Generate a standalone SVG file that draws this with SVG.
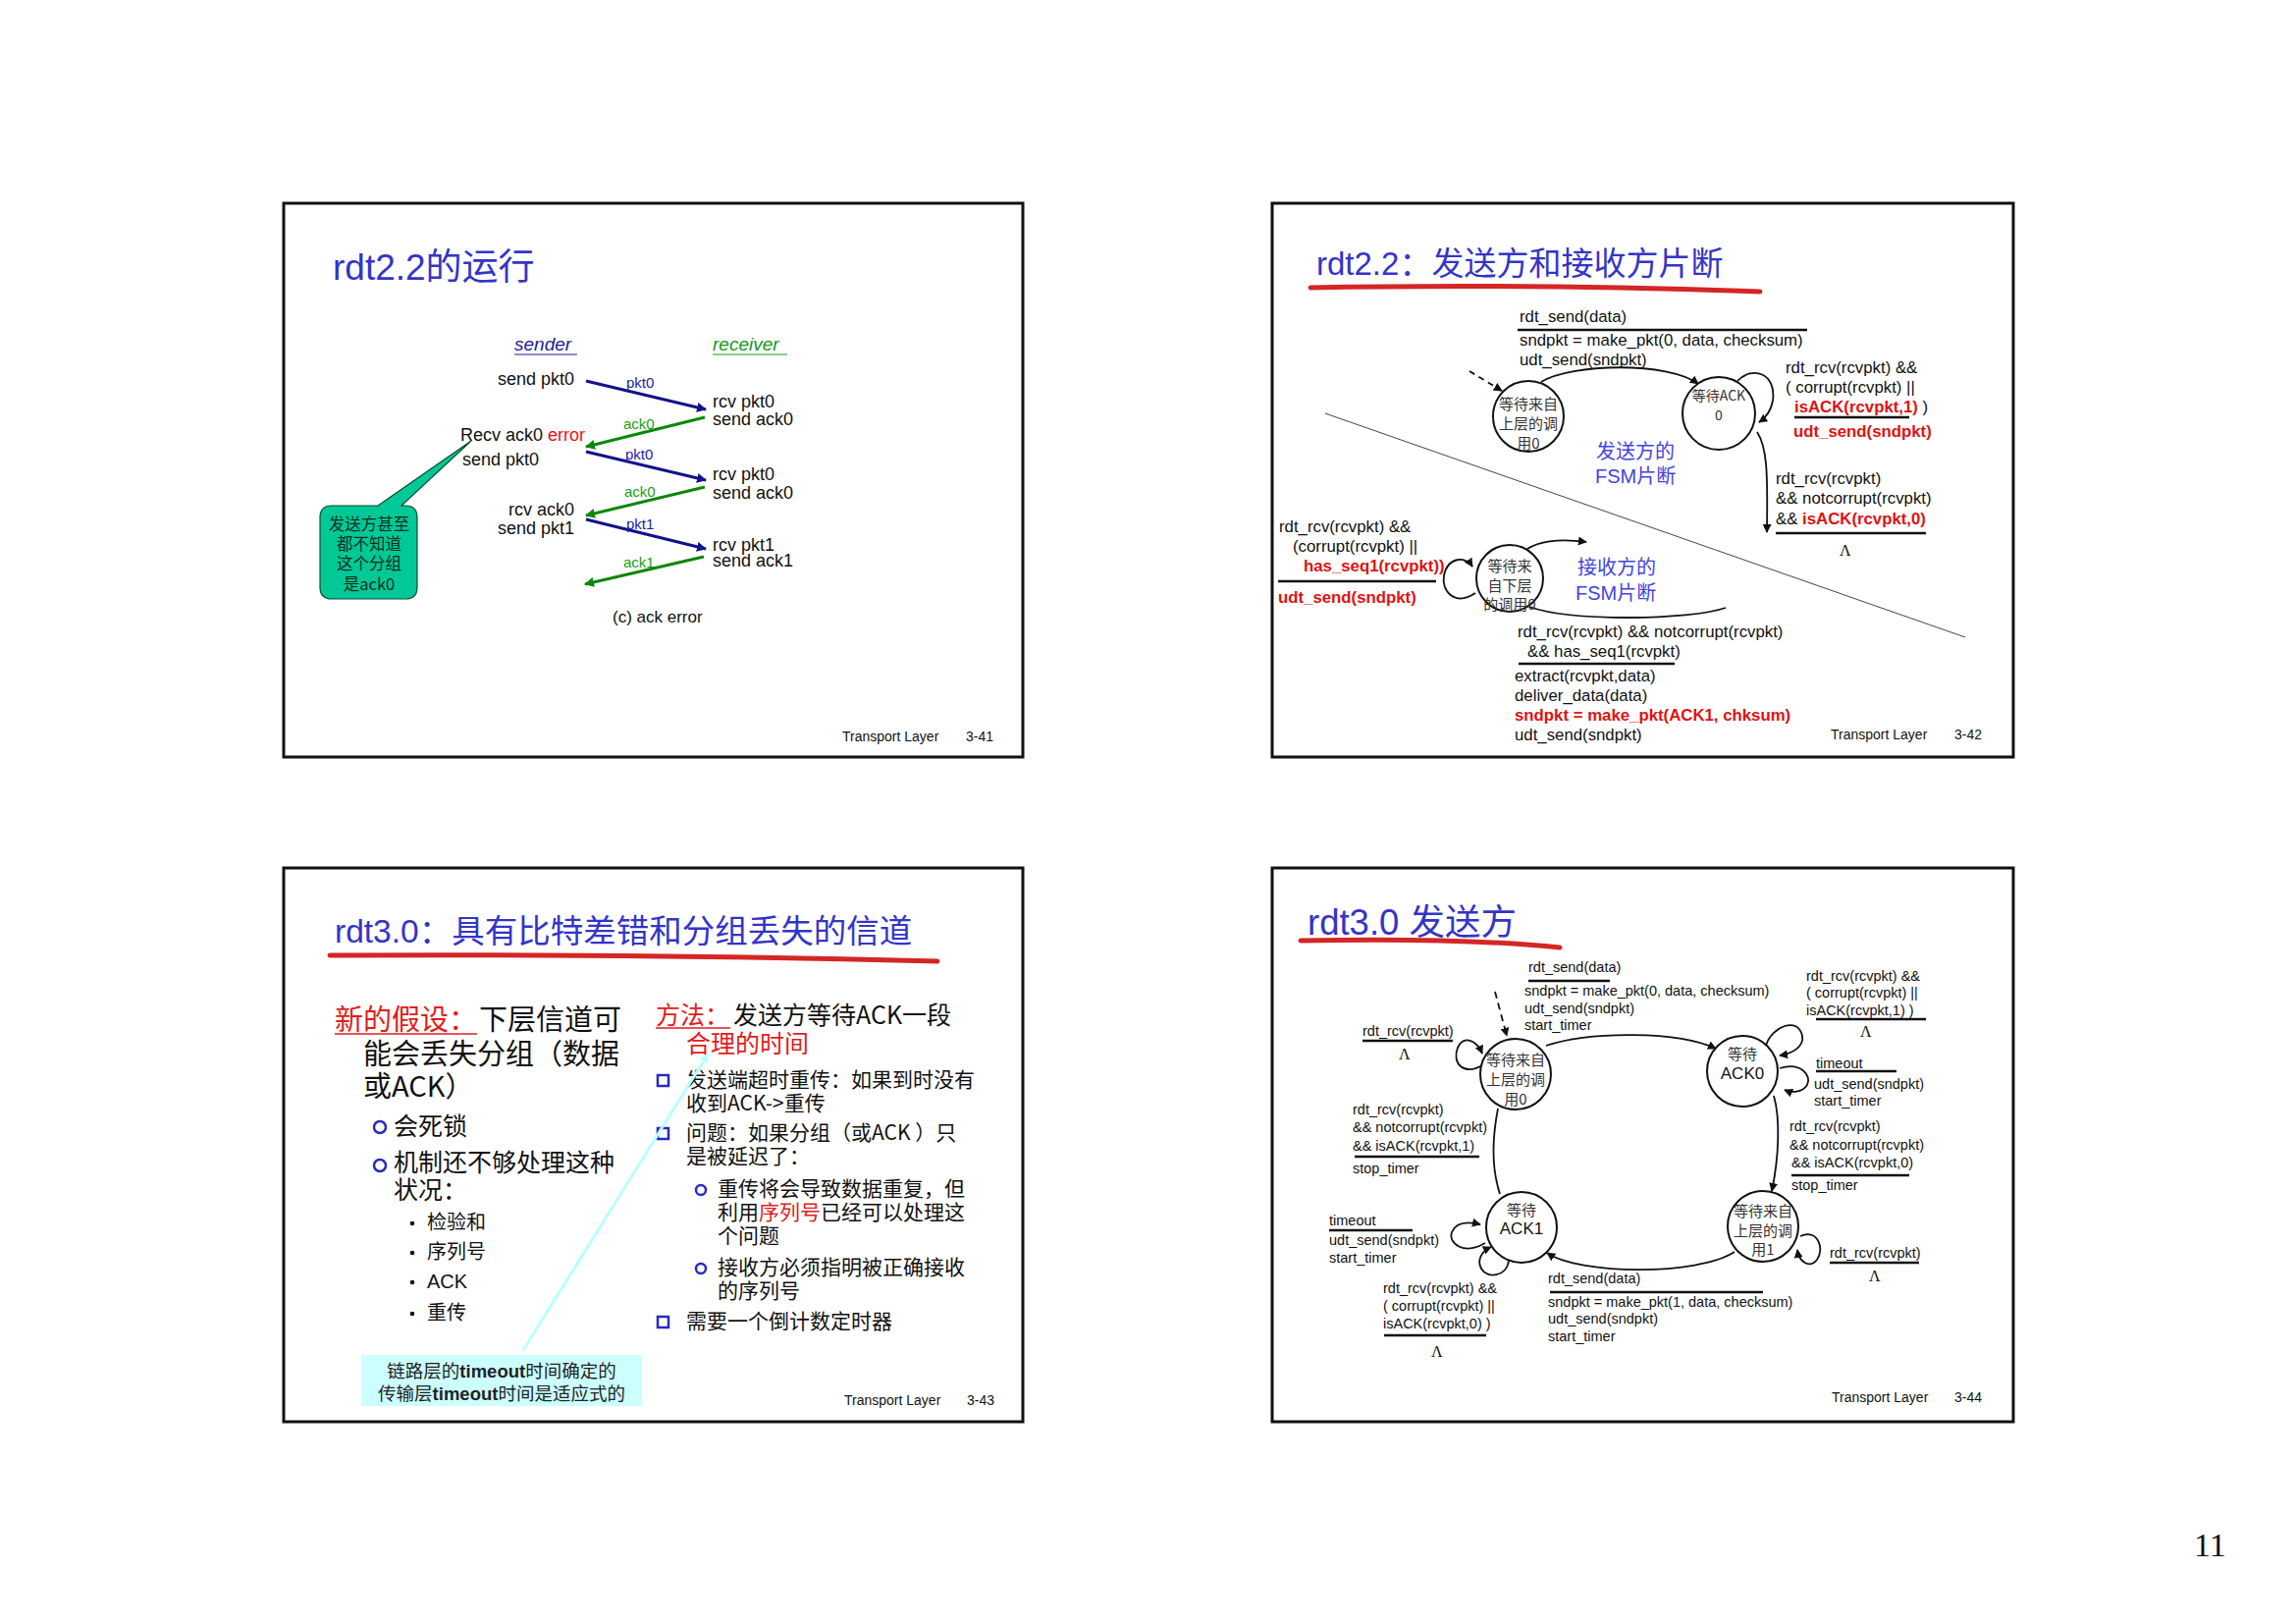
<svg xmlns="http://www.w3.org/2000/svg" width="2339" height="1654" viewBox="0 0 2339 1654">
<defs>
<style>
.frame{fill:#fff;stroke:#111;stroke-width:3}
.ttl{font-family:"Liberation Sans","Noto Sans CJK SC",sans-serif;font-size:33px;fill:#3434c8}
.foot{font-family:"Liberation Sans",sans-serif;font-size:14px;fill:#111}
.s1{font-family:"Liberation Sans",sans-serif;font-size:18px;fill:#111}
.f2{font-family:"Liberation Sans","Noto Sans CJK SC",sans-serif;font-size:16.8px;fill:#111}
.f4{font-family:"Liberation Sans","Noto Sans CJK SC",sans-serif;font-size:14.5px;fill:#111}
.rb{fill:#e01212;font-weight:bold}
.lam{font-family:"Liberation Serif",serif;font-size:16px;fill:#111}
.st{fill:#fff;stroke:#111;stroke-width:2}
.stt{font-family:"Noto Sans CJK SC",sans-serif;font-size:15px;fill:#333;text-anchor:middle}
.stl{font-family:"Liberation Sans","Noto Sans CJK SC",sans-serif;font-size:17px;fill:#111;text-anchor:middle}
.bar{stroke:#111;stroke-width:2.5}
.conn{fill:none;stroke:#111;stroke-width:1.8}
.brush{fill:none;stroke:#d52626;stroke-width:5;stroke-linecap:round}
.fsmnote{font-family:"Liberation Sans","Noto Sans CJK SC",sans-serif;font-size:20px;fill:#4444e0}
.cj{font-family:"Noto Sans CJK SC",sans-serif;fill:#111}
.lat{font-family:"Liberation Sans","Noto Sans CJK SC",sans-serif}
.bl{fill:none;stroke:#2a2ac0;stroke-width:2.5}
.dot{fill:#111}
</style>
<marker id="ah" viewBox="0 0 10 10" refX="9" refY="5" markerWidth="9" markerHeight="9" markerUnits="userSpaceOnUse" orient="auto">
<path d="M0,0 L10,5 L0,10 z" fill="#111"/>
</marker>
<marker id="ahBlue" viewBox="0 0 10 10" refX="9" refY="5" markerWidth="10" markerHeight="10" markerUnits="userSpaceOnUse" orient="auto">
<path d="M0,0 L10,5 L0,10 z" fill="#12128c"/>
</marker>
<marker id="ahGreen" viewBox="0 0 10 10" refX="9" refY="5" markerWidth="10" markerHeight="10" markerUnits="userSpaceOnUse" orient="auto">
<path d="M0,0 L10,5 L0,10 z" fill="#0c860c"/>
</marker>
<marker id="ahCyan" viewBox="0 0 10 10" refX="9" refY="5" markerWidth="9" markerHeight="9" markerUnits="userSpaceOnUse" orient="auto">
<path d="M0,0 L10,5 L0,10 z" fill="#b8ffff"/>
</marker>
</defs>

<rect width="2339" height="1654" fill="#fff"/>

<!-- ============ Slide 3-41 : rdt2.2 operation ============ -->
<g id="slide-41">
<rect class="frame" x="289" y="207" width="753" height="564"/>
<text class="ttl" x="339" y="285" style="font-size:37px">rdt2.2的运行</text>

<g id="s41-roles" font-family="Liberation Sans, sans-serif" font-size="19" font-style="italic">
<text x="524" y="357" fill="#1c1c98">sender</text>
<line x1="524" y1="361" x2="588" y2="361" stroke="#1c1c98" stroke-width="1.2"/>
<text x="726" y="357" fill="#1a961a">receiver</text>
<line x1="726" y1="361" x2="802" y2="361" stroke="#1a961a" stroke-width="1.2"/>
</g>

<g id="s41-sender-events" class="s1">
<text x="585" y="392" text-anchor="end">send pkt0</text>
<text x="469" y="449">Recv ack0 <tspan fill="#ee1111">error</tspan></text>
<text x="471" y="474">send pkt0</text>
<text x="585" y="525" text-anchor="end">rcv ack0</text>
<text x="585" y="544" text-anchor="end">send pkt1</text>
</g>
<g id="s41-receiver-events" class="s1">
<text x="726" y="415">rcv pkt0</text>
<text x="726" y="433">send ack0</text>
<text x="726" y="489">rcv pkt0</text>
<text x="726" y="508">send ack0</text>
<text x="726" y="561">rcv pkt1</text>
<text x="726" y="577">send ack1</text>
</g>

<g id="s41-messages" stroke-width="3" fill="none">
<line x1="597" y1="388" x2="719" y2="417" stroke="#12128c" marker-end="url(#ahBlue)"/>
<line x1="718" y1="425" x2="597" y2="455" stroke="#0c860c" marker-end="url(#ahGreen)"/>
<line x1="597" y1="460" x2="719" y2="489" stroke="#12128c" marker-end="url(#ahBlue)"/>
<line x1="718" y1="496" x2="597" y2="525" stroke="#0c860c" marker-end="url(#ahGreen)"/>
<line x1="597" y1="529" x2="719" y2="559" stroke="#12128c" marker-end="url(#ahBlue)"/>
<line x1="717" y1="567" x2="596" y2="595" stroke="#0c860c" marker-end="url(#ahGreen)"/>
</g>
<g id="s41-message-labels" font-family="Liberation Sans, sans-serif" font-size="15">
<text x="638" y="395" fill="#1c1ca8">pkt0</text>
<text x="635" y="437" fill="#14a014">ack0</text>
<text x="637" y="468" fill="#1c1ca8">pkt0</text>
<text x="636" y="506" fill="#14a014">ack0</text>
<text x="638" y="539" fill="#1c1ca8">pkt1</text>
<text x="635" y="578" fill="#14a014">ack1</text>
</g>

<g id="s41-callout">
<path d="M338,515 L385,515 L480,449 L409,515 L413,515 Q425,515 425,527 L425,598 Q425,610 413,610 L338,610 Q326,610 326,598 L326,527 Q326,515 338,515 Z" fill="#00c896" stroke="#0d4a30" stroke-width="1.2"/>
<g font-family="Noto Sans CJK SC, sans-serif" font-size="16.5" fill="#0e2e1c" text-anchor="middle">
<text x="376" y="540">发送方甚至</text>
<text x="376" y="560">都不知道</text>
<text x="376" y="580">这个分组</text>
<text x="376" y="601">是ack0</text>
</g>
</g>

<text class="s1" x="624" y="634" style="font-size:17px">(c) ack error</text>
<text class="foot" x="858" y="755">Transport Layer</text>
<text class="foot" x="984" y="755">3-41</text>
</g>

<!-- ============ Slide 3-42 : rdt2.2 sender and receiver fragments ============ -->
<g id="slide-42">
<rect class="frame" x="1296" y="207" width="755" height="564"/>
<text class="ttl" x="1341" y="280">rdt2.2：发送方和接收方片断</text>
<path class="brush" d="M1335,293 C1480,290 1650,292 1793,297"/>

<line x1="1350" y1="421" x2="2002" y2="649" stroke="#444" stroke-width="1"/>

<g id="s42-connectors">
<path class="conn" d="M1497,378 L1530,398" stroke-dasharray="6,5" marker-end="url(#ah)"/>
<path class="conn" d="M1570,389 C1600,370 1700,368 1730,391" marker-end="url(#ah)"/>
<path class="conn" d="M1770,388 C1785,372 1810,380 1806,408 C1804,420 1798,426 1792,430" marker-end="url(#ah)"/>
<path class="conn" d="M1790,440 C1800,455 1801,480 1800,542" marker-end="url(#ah)"/>
<path class="conn" d="M1503,604 C1482,618 1468,602 1471,586 C1475,567 1493,566 1500,577" marker-end="url(#ah)"/>
<path class="conn" d="M1548,566 C1560,552 1585,548 1616,552" marker-end="url(#ah)"/>
<path class="conn" d="M1558,618 C1600,633 1720,632 1758,619"/>
</g>

<g id="s42-wait-call0">
<circle class="st" cx="1557" cy="424" r="36"/>
<text class="stt" x="1557" y="417">等待来自</text>
<text class="stt" x="1557" y="437">上层的调</text>
<text class="stt" x="1557" y="457">用0</text>
</g>
<g id="s42-wait-ack0">
<circle class="st" cx="1751" cy="421" r="37"/>
<text class="stt" x="1751" y="408" style="font-size:14px">等待ACK</text>
<text class="stt" x="1751" y="428" style="font-size:14px">0</text>
</g>
<g id="s42-recv-wait">
<circle class="st" cx="1538" cy="589" r="34"/>
<text class="stt" x="1538" y="582">等待来</text>
<text class="stt" x="1538" y="602">自下层</text>
<text class="stt" x="1538" y="621">的调用0</text>
</g>

<g id="s42-labels" class="f2">
<text x="1548" y="328">rdt_send(data)</text>
<line class="bar" x1="1546" y1="336" x2="1841" y2="336"/>
<text x="1548" y="352">sndpkt = make_pkt(0, data, checksum)</text>
<text x="1548" y="372">udt_send(sndpkt)</text>

<text x="1819" y="380">rdt_rcv(rcvpkt) &amp;&amp;</text>
<text x="1819" y="400">( corrupt(rcvpkt) ||</text>
<text x="1828" y="420"><tspan class="rb">isACK(rcvpkt,1)</tspan> )</text>
<line class="bar" x1="1828" y1="425" x2="1945" y2="425"/>
<text x="1827" y="445" class="rb">udt_send(sndpkt)</text>

<text x="1809" y="493">rdt_rcv(rcvpkt)</text>
<text x="1809" y="513">&amp;&amp; notcorrupt(rcvpkt)</text>
<text x="1809" y="534">&amp;&amp; <tspan class="rb">isACK(rcvpkt,0)</tspan></text>
<line class="bar" x1="1809" y1="543" x2="1962" y2="543"/>
<text class="lam" x="1874" y="566">Λ</text>

<text x="1303" y="542">rdt_rcv(rcvpkt) &amp;&amp;</text>
<text x="1317" y="562">(corrupt(rcvpkt) ||</text>
<text x="1328" y="582" class="rb">has_seq1(rcvpkt))</text>
<line class="bar" x1="1302" y1="592" x2="1463" y2="592"/>
<text x="1302" y="614" class="rb">udt_send(sndpkt)</text>

<text x="1546" y="649">rdt_rcv(rcvpkt) &amp;&amp; notcorrupt(rcvpkt)</text>
<text x="1556" y="669">&amp;&amp; has_seq1(rcvpkt)</text>
<line class="bar" x1="1547" y1="676" x2="1706" y2="676"/>
<text x="1543" y="694">extract(rcvpkt,data)</text>
<text x="1543" y="714">deliver_data(data)</text>
<text x="1543" y="734" class="rb">sndpkt = make_pkt(ACK1, chksum)</text>
<text x="1543" y="754">udt_send(sndpkt)</text>
</g>

<g id="s42-notes" class="fsmnote">
<text x="1626" y="467">发送方的</text>
<text x="1625" y="492">FSM片断</text>
<text x="1607" y="585">接收方的</text>
<text x="1605" y="611">FSM片断</text>
</g>

<text class="foot" x="1865" y="753">Transport Layer</text>
<text class="foot" x="1991" y="753">3-42</text>
</g>

<!-- ============ Slide 3-43 : rdt3.0 channel with errors and loss ============ -->
<g id="slide-43">
<rect class="frame" x="289" y="884" width="753" height="564"/>
<text class="ttl" x="341" y="960" style="font-size:33.5px">rdt3.0：具有比特差错和分组丢失的信道</text>
<path class="brush" d="M336,973 C520,972 760,974 955,979"/>

<g id="s43-left" class="cj" font-size="29">
<text x="341" y="1049" fill="#e31b1b">新的假设：</text>
<line x1="341" y1="1053" x2="486" y2="1053" stroke="#e31b1b" stroke-width="1.5"/>
<text x="488" y="1049">下层信道可</text>
<text x="370" y="1084">能会丢失分组（数据</text>
<text x="370" y="1117">或ACK）</text>
</g>
<g id="s43-left-bullets" class="cj" font-size="25">
<circle class="bl" cx="387" cy="1148" r="6"/>
<text x="401" y="1156">会死锁</text>
<circle class="bl" cx="387" cy="1187" r="6"/>
<text x="401" y="1193">机制还不够处理这种</text>
<text x="401" y="1221">状况：</text>
</g>
<g id="s43-left-sub" class="cj" font-size="20">
<circle class="dot" cx="420" cy="1246" r="2.3"/><text x="435" y="1252">检验和</text>
<circle class="dot" cx="420" cy="1276" r="2.3"/><text x="435" y="1282">序列号</text>
<circle class="dot" cx="420" cy="1306" r="2.3"/><text class="lat" x="435" y="1312">ACK</text>
<circle class="dot" cx="420" cy="1338" r="2.3"/><text x="435" y="1344">重传</text>
</g>

<g id="s43-right" class="cj">
<text x="668" y="1043" font-size="25" fill="#e31b1b">方法：</text>
<line x1="668" y1="1047" x2="744" y2="1047" stroke="#e31b1b" stroke-width="1.5"/>
<text x="747" y="1043" font-size="25">发送方等待ACK一段</text>
<text x="699" y="1072" font-size="25" fill="#e31b1b">合理的时间</text>
<g font-size="21">
<rect class="bl" x="670" y="1095" width="11" height="11" stroke-width="2.2"/>
<text x="699" y="1107">发送端超时重传：如果到时没有</text>
<text x="699" y="1131">收到ACK-&gt;重传</text>
<rect class="bl" x="670" y="1149" width="11" height="11" stroke-width="2.2"/>
<text x="699" y="1161">问题：如果分组（或ACK ）只</text>
<text x="699" y="1185">是被延迟了：</text>
<circle class="bl" cx="714" cy="1212" r="5" stroke-width="2"/>
<text x="731" y="1218">重传将会导致数据重复，但</text>
<text x="731" y="1242">利用<tspan fill="#e31b1b">序列号</tspan>已经可以处理这</text>
<text x="731" y="1266">个问题</text>
<circle class="bl" cx="714" cy="1292" r="5" stroke-width="2"/>
<text x="731" y="1298">接收方必须指明被正确接收</text>
<text x="731" y="1322">的序列号</text>
<rect class="bl" x="670" y="1341" width="11" height="11" stroke-width="2.2"/>
<text x="699" y="1353">需要一个倒计数定时器</text>
</g>
</g>

<g id="s43-note">
<line x1="533" y1="1375" x2="721" y2="1074" stroke="#b8ffff" stroke-width="3" marker-end="url(#ahCyan)"/>
<rect x="368" y="1380" width="286" height="52" fill="#ccffff"/>
<g font-family="Noto Sans CJK SC, sans-serif" font-size="18.5" fill="#222" text-anchor="middle">
<text x="511" y="1403">链路层的<tspan font-family="Liberation Sans, sans-serif" font-weight="bold">timeout</tspan>时间确定的</text>
<text x="511" y="1426">传输层<tspan font-family="Liberation Sans, sans-serif" font-weight="bold">timeout</tspan>时间是适应式的</text>
</g>
</g>

<text class="foot" x="860" y="1431">Transport Layer</text>
<text class="foot" x="985" y="1431">3-43</text>
</g>

<!-- ============ Slide 3-44 : rdt3.0 sender ============ -->
<g id="slide-44">
<rect class="frame" x="1296" y="884" width="755" height="564"/>
<text class="ttl" x="1332" y="952" style="font-size:36.5px">rdt3.0 发送方</text>
<path class="brush" d="M1325,958 C1420,956 1510,957 1589,965"/>

<g id="s44-connectors">
<path class="conn" d="M1523,1010 L1535,1055" stroke-dasharray="7,5" marker-end="url(#ah)"/>
<path class="conn" d="M1575,1065 C1620,1050 1710,1050 1748,1068" marker-end="url(#ah)"/>
<path class="conn" d="M1512,1084 C1490,1097 1479,1082 1485,1067 C1491,1054 1504,1059 1510,1073" marker-end="url(#ah)"/>
<path class="conn" d="M1799,1065 C1805,1045 1832,1035 1836,1055 C1838,1066 1826,1073 1813,1075" marker-end="url(#ah)"/>
<path class="conn" d="M1813,1088 C1835,1081 1846,1096 1841,1105 C1836,1113 1825,1113 1818,1110" marker-end="url(#ah)"/>
<path class="conn" d="M1807,1116 C1814,1140 1812,1180 1805,1213" marker-end="url(#ah)"/>
<path class="conn" d="M1526,1129 C1520,1160 1520,1192 1528,1216"/>
<path class="conn" d="M1767,1275 C1730,1299 1610,1299 1576,1276" marker-end="url(#ah)"/>
<path class="conn" d="M1834,1259 C1852,1251 1859,1272 1851,1283 C1844,1292 1833,1286 1831,1273" marker-end="url(#ah)"/>
<path class="conn" d="M1513,1266 C1491,1279 1475,1266 1479,1255 C1483,1245 1495,1244 1508,1247" marker-end="url(#ah)"/>
<path class="conn" d="M1537,1284 C1535,1300 1515,1303 1509,1292 C1504,1283 1510,1274 1519,1270" marker-end="url(#ah)"/>
</g>

<g id="s44-wait-call0">
<circle class="st" cx="1544" cy="1094" r="36"/>
<text class="stt" x="1544" y="1085">等待来自</text>
<text class="stt" x="1544" y="1105">上层的调</text>
<text class="stt" x="1544" y="1125">用0</text>
</g>
<g id="s44-wait-ack0">
<circle class="st" cx="1775" cy="1091" r="36"/>
<text class="stt" x="1775" y="1079">等待</text>
<text class="stl" x="1775" y="1099">ACK0</text>
</g>
<g id="s44-wait-ack1">
<circle class="st" cx="1550" cy="1250" r="36"/>
<text class="stt" x="1550" y="1238">等待</text>
<text class="stl" x="1550" y="1257">ACK1</text>
</g>
<g id="s44-wait-call1">
<circle class="st" cx="1796" cy="1249" r="36"/>
<text class="stt" x="1796" y="1239">等待来自</text>
<text class="stt" x="1796" y="1259">上层的调</text>
<text class="stt" x="1796" y="1278">用1</text>
</g>

<g id="s44-labels" class="f4">
<text x="1557" y="990">rdt_send(data)</text>
<line class="bar" x1="1557" y1="999" x2="1640" y2="999"/>
<text x="1553" y="1014">sndpkt = make_pkt(0, data, checksum)</text>
<text x="1553" y="1032">udt_send(sndpkt)</text>
<text x="1553" y="1049">start_timer</text>

<text x="1388" y="1055">rdt_rcv(rcvpkt)</text>
<line class="bar" x1="1388" y1="1060" x2="1480" y2="1060"/>
<text class="lam" x="1425" y="1079">Λ</text>

<text x="1840" y="999">rdt_rcv(rcvpkt) &amp;&amp;</text>
<text x="1840" y="1016">( corrupt(rcvpkt) ||</text>
<text x="1840" y="1034">isACK(rcvpkt,1) )</text>
<line class="bar" x1="1850" y1="1038" x2="1962" y2="1038"/>
<text class="lam" x="1895" y="1056">Λ</text>

<text x="1850" y="1088">timeout</text>
<line class="bar" x1="1850" y1="1091" x2="1932" y2="1091"/>
<text x="1848" y="1109">udt_send(sndpkt)</text>
<text x="1848" y="1126">start_timer</text>

<text x="1378" y="1135">rdt_rcv(rcvpkt)</text>
<text x="1378" y="1153">&amp;&amp; notcorrupt(rcvpkt)</text>
<text x="1378" y="1172">&amp;&amp; isACK(rcvpkt,1)</text>
<line class="bar" x1="1380" y1="1178" x2="1507" y2="1178"/>
<text x="1378" y="1195">stop_timer</text>

<text x="1823" y="1152">rdt_rcv(rcvpkt)</text>
<text x="1823" y="1171">&amp;&amp; notcorrupt(rcvpkt)</text>
<text x="1825" y="1189">&amp;&amp; isACK(rcvpkt,0)</text>
<line class="bar" x1="1825" y1="1197" x2="1945" y2="1197"/>
<text x="1825" y="1212">stop_timer</text>

<text x="1354" y="1248">timeout</text>
<line class="bar" x1="1354" y1="1253" x2="1439" y2="1253"/>
<text x="1354" y="1268">udt_send(sndpkt)</text>
<text x="1354" y="1286">start_timer</text>

<text x="1864" y="1281">rdt_rcv(rcvpkt)</text>
<line class="bar" x1="1864" y1="1286" x2="1955" y2="1286"/>
<text class="lam" x="1904" y="1305">Λ</text>

<text x="1409" y="1317">rdt_rcv(rcvpkt) &amp;&amp;</text>
<text x="1409" y="1335">( corrupt(rcvpkt) ||</text>
<text x="1409" y="1353">isACK(rcvpkt,0) )</text>
<line class="bar" x1="1410" y1="1360" x2="1514" y2="1360"/>
<text class="lam" x="1458" y="1382">Λ</text>

<text x="1577" y="1307">rdt_send(data)</text>
<line class="bar" x1="1579" y1="1316" x2="1796" y2="1316"/>
<text x="1577" y="1331">sndpkt = make_pkt(1, data, checksum)</text>
<text x="1577" y="1348">udt_send(sndpkt)</text>
<text x="1577" y="1366">start_timer</text>
</g>

<text class="foot" x="1866" y="1428">Transport Layer</text>
<text class="foot" x="1991" y="1428">3-44</text>
</g>

<text x="2235" y="1585" font-family="Liberation Serif, serif" font-size="34" fill="#111">11</text>
</svg>
